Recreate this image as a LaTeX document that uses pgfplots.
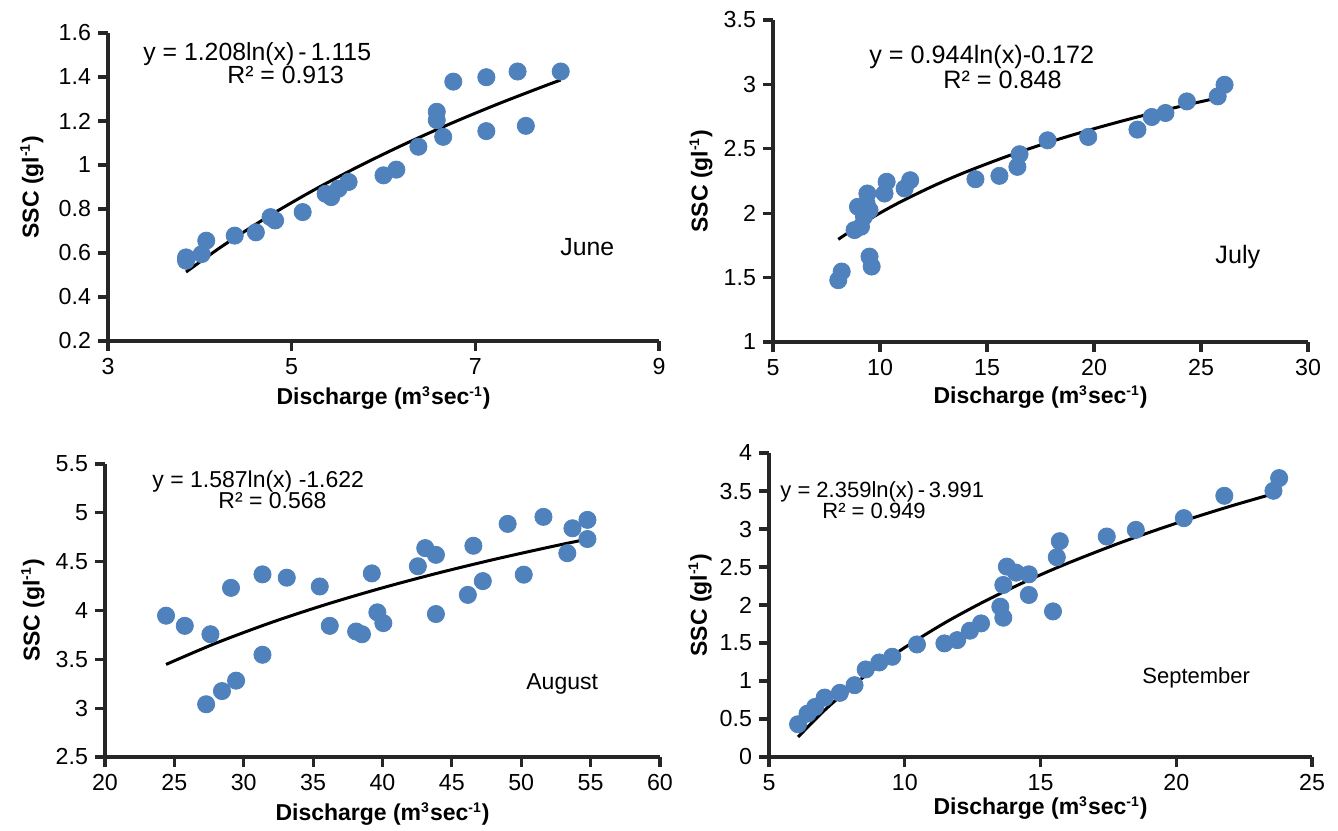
\documentclass[border=0pt]{standalone}
\usepackage{fontspec}
\setmainfont{Liberation Sans}
\usepackage{pgfplots}
\pgfplotsset{compat=1.18}
\definecolor{ptblue}{RGB}{79,129,189}
\pgfplotsset{
 myax/.style={
  scale only axis,
  axis lines=left,
  axis line style={-, line width=1.6pt, black!85},
  tick style={line width=1.6pt, black!85},
  tick align=outside,
  major tick length=5pt,
  minor tick num=0,
  /pgf/number format/assume math mode=true,
  /pgf/number format/fixed,
  tick label style={font=\fontsize{11.6}{13}\selectfont},
  label style={font=\bfseries\fontsize{11.5}{13}\selectfont},
  enlargelimits=false,
  clip=false,
  anchor=south west,
  xlabel={Discharge (m\textsuperscript{\scriptsize 3}sec\textsuperscript{\scriptsize -1})},
  ylabel={SSC (gl\textsuperscript{\scriptsize -1})},
 },
 pts/.style={only marks, mark=*, mark size=4.3pt, mark options={draw=ptblue, fill=ptblue}},
 fit/.style={black, line width=1.5pt, smooth, no marks},
}
\begin{document}
\begin{tikzpicture}
\useasboundingbox (0,0) rectangle (669pt,-415pt);
% ---------------- June
\begin{axis}[myax, at={(54pt,-170.5pt)}, width=275.5pt, height=154pt,
  xmin=3, xmax=9, ymin=0.2, ymax=1.6, xtick={3,5,7,9}, ytick={0.2,0.4,...,1.6},
  xlabel style={at={(axis description cs:0.5,-0.185)}, anchor=center},
  ylabel style={at={(axis description cs:-0.138,0.5)}, anchor=center}]
\addplot[pts] coordinates {
(3.85,0.58) (3.85,0.565) (4.02,0.595) (4.07,0.656) (4.38,0.679) (4.61,0.694)
(4.77,0.763) (4.82,0.748) (5.12,0.786) (5.37,0.869) (5.43,0.854) (5.51,0.892)
(5.62,0.923) (6.00,0.953) (6.14,0.979) (6.38,1.083) (6.58,1.242) (6.58,1.204)
(6.65,1.128) (6.76,1.379) (7.12,1.399) (7.12,1.154) (7.46,1.425) (7.55,1.178)
(7.93,1.425)};
\addplot[fit] coordinates {
(3.85,0.5135) (4.25,0.6329) (4.75,0.7672) (5.25,0.8881) (5.75,0.9980)
(6.25,1.0988) (6.75,1.1917) (7.25,1.2780) (7.75,1.3586) (7.93,1.3864)};
\end{axis}
% ---------------- July
\begin{axis}[myax, at={(386.5pt,-171pt)}, width=267.5pt, height=161pt,
  xmin=5, xmax=30, ymin=1, ymax=3.5, xtick={5,10,...,30}, ytick={1,1.5,...,3.5},
  xlabel style={at={(axis description cs:0.5,-0.171)}, anchor=center},
  ylabel style={at={(axis description cs:-0.1346,0.5)}, anchor=center}]
\addplot[pts] coordinates {
(8.05,1.48) (8.21,1.547) (8.81,1.869) (8.97,2.05) (9.11,1.895) (9.25,1.973)
(9.37,2.076) (9.41,2.153) (9.51,2.024) (9.51,1.663) (9.61,1.586) (10.21,2.153)
(10.31,2.244) (11.15,2.192) (11.41,2.256) (14.46,2.264) (15.58,2.29) (16.42,2.36)
(16.52,2.458) (17.83,2.566) (19.73,2.592) (22.03,2.649) (22.70,2.747) (23.34,2.778)
(24.34,2.868) (25.78,2.907) (26.10,2.997)};
\addplot[fit] coordinates {
(8.05,1.7969) (9,1.9022) (10,2.0016) (11,2.0916) (12.5,2.2123) (14,2.3193)
(16,2.4453) (18,2.5565) (20,2.6559) (22,2.7459) (24,2.8281) (26.1,2.9072)};
\end{axis}
% ---------------- August
\begin{axis}[myax, at={(52.5pt,-378.5pt)}, width=277.5pt, height=146.5pt,
  xmin=20, xmax=60, ymin=2.5, ymax=5.5, xtick={20,25,...,60}, ytick={2.5,3,...,5.5},
  xlabel style={at={(axis description cs:0.5,-0.195)}, anchor=center},
  ylabel style={at={(axis description cs:-0.13,0.5)}, anchor=center}]
\addplot[pts] coordinates {
(24.4,3.947) (25.75,3.843) (27.6,3.757) (27.29,3.04) (28.43,3.175) (29.08,4.232)
(29.45,3.282) (31.35,4.37) (31.35,3.547) (33.1,4.336) (35.48,4.246) (36.2,3.843)
(38.1,3.785) (38.52,3.757) (39.23,4.38) (39.63,3.981) (40.06,3.871) (42.55,4.453)
(43.08,4.639) (43.85,4.57) (43.85,3.964) (46.15,4.16) (46.55,4.663) (47.23,4.301)
(49.02,4.887) (50.18,4.367) (51.6,4.959) (53.32,4.587) (53.69,4.842) (54.77,4.928)
(54.77,4.732)};
\addplot[fit] coordinates {
(24.4,3.4478) (28,3.6662) (32,3.8781) (36,4.0650) (40,4.2323) (44,4.3835)
(48,4.5216) (52,4.6486) (54.8,4.7319)};
\end{axis}
% ---------------- September
\begin{axis}[myax, at={(384.5pt,-378.5pt)}, width=271.5pt, height=152pt,
  xmin=5, xmax=25, ymin=0, ymax=4, xtick={5,10,...,25}, ytick={0,0.5,...,4},
  xlabel style={at={(axis description cs:0.5,-0.168)}, anchor=center},
  ylabel style={at={(axis description cs:-0.127,0.5)}, anchor=center}]
\addplot[pts] coordinates {
(6.07,0.431) (6.42,0.571) (6.70,0.659) (7.05,0.782) (7.61,0.844) (8.15,0.945)
(8.56,1.152) (9.06,1.244) (9.54,1.319) (10.45,1.481) (11.46,1.495) (11.93,1.538)
(12.4,1.662) (12.81,1.758) (13.52,1.978) (13.63,1.833) (13.63,2.264) (13.76,2.505)
(14.1,2.426) (14.57,2.404) (14.57,2.132) (15.46,1.916) (15.6,2.629) (15.71,2.840)
(17.44,2.901) (18.51,2.989) (20.28,3.143) (21.77,3.437) (23.58,3.503) (23.79,3.670)};
\addplot[fit] coordinates {
(6.07,0.2632) (7,0.5994) (8,0.9144) (9,1.1922) (10,1.4408) (11.5,1.7704)
(13,2.0596) (14.5,2.3172) (16,2.5496) (18,2.8274) (20,3.0759) (22,3.3007) (23.8,3.4863)};
\end{axis}
% ---------------- equations and month labels
\begin{scope}[every node/.style={inner sep=0pt, anchor=base west}]
\node[font=\fontsize{12.4}{14}\selectfont] at (71.5pt,-30pt) {y = 1.208ln(x)\,-\,1.115};
\node[font=\fontsize{12.4}{14}\selectfont] at (113.5pt,-41.5pt) {R² = 0.913};
\node[font=\fontsize{12.4}{14}\selectfont] at (280pt,-127.5pt) {June};
\node[font=\fontsize{12.6}{14}\selectfont] at (434.5pt,-31.5pt) {y = 0.944ln(x)-0.172};
\node[font=\fontsize{12.6}{14}\selectfont] at (471.5pt,-44pt) {R² = 0.848};
\node[font=\fontsize{12.6}{14}\selectfont] at (607.5pt,-131.5pt) {July};
\node[font=\fontsize{11.5}{13}\selectfont] at (76pt,-243.5pt) {y = 1.587ln(x) -1.622};
\node[font=\fontsize{11.5}{13}\selectfont] at (109pt,-254pt) {R² = 0.568};
\node[font=\fontsize{11.5}{13}\selectfont] at (263pt,-344.5pt) {August};
\node[font=\fontsize{11}{13}\selectfont] at (390pt,-248.5pt) {y = 2.359ln(x)\,-\,3.991};
\node[font=\fontsize{11}{13}\selectfont] at (411pt,-259pt) {R² = 0.949};
\node[font=\fontsize{11}{13}\selectfont] at (571pt,-341.5pt) {September};
\end{scope}
\end{tikzpicture}
\end{document}
